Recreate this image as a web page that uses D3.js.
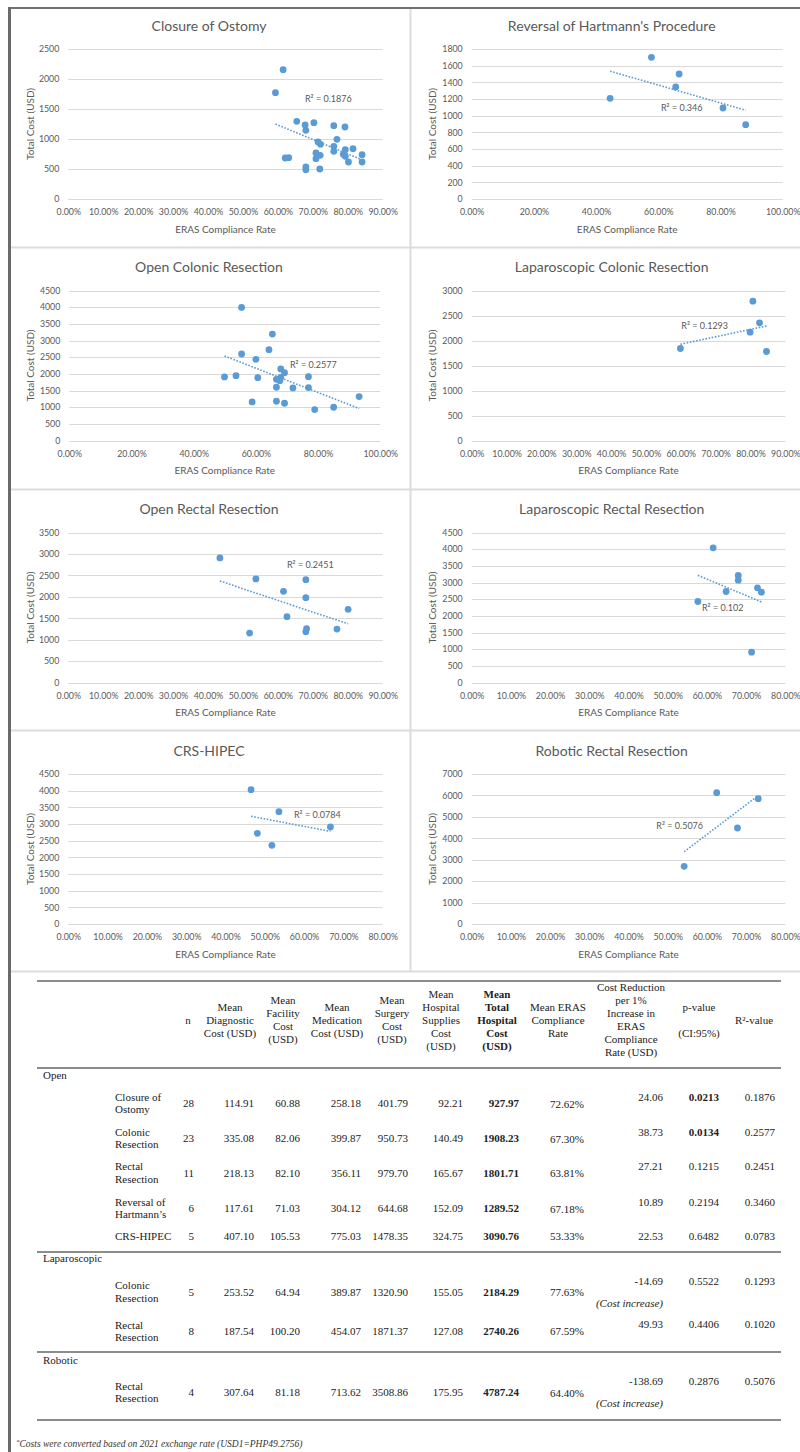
<!DOCTYPE html>
<html>
<head>
<meta charset="utf-8">
<script src="https://cdn.jsdelivr.net/npm/d3@7"></script>
<style>
body { margin: 0; background: #fff; }
svg { display: block; }
</style>
</head>
<body>
<div id="chart"></div>
<script>
// scatter data, each point = [ERAS compliance rate (%), total cost (USD)]
const closureOstomy = [[61.5,2156],[59.3,1772],[65.4,1294],[67.8,1233],[68.0,1144],[70.3,1272],[76.0,1222],
  [79.2,1200],[76.9,994],[71.5,950],[72.2,911],[76.0,878],[76.0,794],[79.3,822],[81.5,839],[70.9,767],
  [72.1,728],[70.9,672],[78.7,744],[79.3,711],[84.1,739],[80.2,617],[84.1,617],[62.1,683],[63.1,689],
  [68.0,533],[68.0,489],[72.0,500]];
const reversalHartmann = [[44.5,1208],[57.8,1700],[66.7,1500],[65.6,1344],[80.8,1092],[88.1,892]];
const openColonic = [[55.4,3992],[65.3,3194],[64.2,2725],[55.4,2595],[60.0,2435],[49.9,1906],[53.6,1946],
  [60.6,1886],[68.0,2146],[69.2,2036],[66.6,1836],[68.0,1896],[67.7,1796],[76.9,1916],[66.6,1597],
  [71.9,1577],[76.9,1587],[58.8,1157],[66.6,1177],[69.2,1117],[78.9,928],[85.0,998],[93.2,1317]];
const lapColonic = [[59.9,1840],[80.7,2787],[79.9,2167],[82.6,2353],[84.6,1780]];
const openRectal = [[43.4,2907],[53.7,2416],[68.0,2400],[61.6,2128],[68.0,1980],[80.1,1707],[62.6,1536],
  [51.9,1154],[68.2,1255],[68.0,1185],[76.9,1247]];
const lapRectal = [[61.6,4040],[68.0,3210],[68.0,3070],[64.9,2730],[72.9,2840],[73.9,2710],[57.7,2430],[71.4,910]];
const crsHipec = [[46.5,4030],[53.6,3370],[66.7,2910],[48.1,2720],[51.8,2360]];
const roboticRectal = [[62.5,6130],[73.1,5850],[67.8,4480],[54.2,2690]];

const chartTitles = ["Closure of Ostomy", "Reversal of Hartmann's Procedure", "Open Colonic Resection",
  "Laparoscopic Colonic Resection", "Open Rectal Resection", "Laparoscopic Rectal Resection",
  "CRS-HIPEC", "Robotic Rectal Resection"];
const chartData = [closureOstomy, reversalHartmann, openColonic, lapColonic, openRectal, lapRectal, crsHipec, roboticRectal];
const r2Labels = ["0.1876", "0.346", "0.2577", "0.1293", "0.2451", "0.102", "0.0784", "0.5076"];
const xMax = [90, 100, 100, 90, 90, 80, 80, 80];
const xStep = [10, 20, 20, 10, 10, 10, 10, 10];
const yMax = [2500, 1800, 4500, 3000, 3500, 4500, 4500, 7000];
const yStep = [500, 200, 500, 500, 500, 500, 500, 1000];

// table data
const groupNames = ["Open", "Laparoscopic", "Robotic"];
const procGroup = [0, 0, 0, 0, 0, 1, 1, 2];
const procNames = [["Closure of","Ostomy"],["Colonic","Resection"],["Rectal","Resection"],["Reversal of","Hartmann’s"],
  ["CRS-HIPEC"],["Colonic","Resection"],["Rectal","Resection"],["Rectal","Resection"]];
const nPatients = [28, 23, 11, 6, 5, 5, 8, 4];
const diagCost = [114.91, 335.08, 218.13, 117.61, 407.10, 253.52, 187.54, 307.64];
const facilityCost = [60.88, 82.06, 82.10, 71.03, 105.53, 64.94, 100.20, 81.18];
const medicationCost = [258.18, 399.87, 356.11, 304.12, 775.03, 389.87, 454.07, 713.62];
const surgeryCost = [401.79, 950.73, 979.70, 644.68, 1478.35, 1320.90, 1871.37, 3508.86];
const suppliesCost = [92.21, 140.49, 165.67, 152.09, 324.75, 155.05, 127.08, 175.95];
const totalCost = [927.97, 1908.23, 1801.71, 1289.52, 3090.76, 2184.29, 2740.26, 4787.24];
const erasRate = [72.62, 67.30, 63.81, 67.18, 53.33, 77.63, 67.59, 64.40];
const costReduction = [24.06, 38.73, 27.21, 10.89, 22.53, -14.69, 49.93, -138.69];
const pValue = [0.0213, 0.0134, 0.1215, 0.2194, 0.6482, 0.5522, 0.4406, 0.2876];
const r2Value = [0.1876, 0.2577, 0.2451, 0.3460, 0.0783, 0.1293, 0.1020, 0.5076];
const headerLabels = [["n"],["Mean","Diagnostic","Cost (USD)"],["Mean","Facility","Cost","(USD)"],
  ["Mean","Medication","Cost (USD)"],["Mean","Surgery","Cost","(USD)"],["Mean","Hospital","Supplies","Cost","(USD)"],
  ["Mean","Total","Hospital","Cost","(USD)"],["Mean ERAS","Compliance","Rate"],
  ["Cost Reduction","per 1%","Increase in","ERAS","Compliance","Rate (USD)"],["p-value","","(CI:95%)"],["R²-value"]];

const W = 800, H = 1452;
const blue = "#5b9bd5", gray = "#595959", grid = "#d9d9d9";

const svg = d3.select("#chart").append("svg")
  .attr("width", W).attr("height", H)
  .style("background", "#fff");

// panel frame lines
const frame = svg.append("g");
[247.5, 489.5, 730.5, 971.5].forEach(function(y) {
  frame.append("line").attr("x1", 11).attr("x2", W).attr("y1", y).attr("y2", y)
    .attr("stroke", "#dcdcdc").attr("stroke-width", 2);
});
frame.append("line").attr("x1", 410.5).attr("x2", 410.5).attr("y1", 9).attr("y2", 972)
  .attr("stroke", "#dcdcdc").attr("stroke-width", 2);
frame.append("line").attr("x1", 8).attr("x2", W).attr("y1", 8).attr("y2", 8)
  .attr("stroke", "#707070").attr("stroke-width", 2);
frame.append("line").attr("x1", 9.5).attr("x2", 9.5).attr("y1", 7).attr("y2", H)
  .attr("stroke", "#6a6a6a").attr("stroke-width", 3);

// layout of the scatter panels
const rowTop = [49, 290.5, 532.5, 774];
const plotH = 150;
const plotX = [[68.3, 382.7], [471.7, 782.7], [69.3, 380.3], [471.7, 785.3],
               [68.3, 382.7], [471.7, 785.3], [68.3, 382.7], [471.7, 785.3]];
const titleX = [209, 611.7];
const yTitleX = [30, 432.7];
// R² label offset from plot top-left
const r2Pos = [[260, 50], [210, 59], [244, 74], [233, 35], [242, 32.5], [251, 75], [249, 41], [208, 52]];

chartData.forEach(function(pts, i) {
  const col = i % 2, row = Math.floor(i / 2);
  const top = rowTop[row];
  const x = d3.scaleLinear().domain([0, xMax[i]]).range(plotX[i]);
  const y = d3.scaleLinear().domain([0, yMax[i]]).range([top + plotH, top]);
  const g = svg.append("g");

  g.append("text")
    .attr("x", titleX[col]).attr("y", top - 23)
    .attr("dy", "0.35em").attr("text-anchor", "middle")
    .style("font-family", "Lato, sans-serif").style("font-size", "14px")
    .attr("fill", gray).text(chartTitles[i]);

  const yTicks = d3.range(0, yMax[i] + 1, yStep[i]);
  g.selectAll(".grid").data(yTicks).enter().append("line")
    .attr("x1", plotX[i][0]).attr("x2", plotX[i][1])
    .attr("y1", function(d) { return Math.round(y(d)) + 0.5; })
    .attr("y2", function(d) { return Math.round(y(d)) + 0.5; })
    .attr("stroke", grid).attr("stroke-width", 1);

  const ya = g.append("g")
    .attr("transform", "translate(" + plotX[i][0] + ",0)")
    .call(d3.axisLeft(y).tickValues(yTicks).tickSize(0).tickPadding(9).tickFormat(d3.format("d")));
  const xa = g.append("g")
    .attr("transform", "translate(0," + (top + plotH) + ")")
    .call(d3.axisBottom(x).tickValues(d3.range(0, xMax[i] + 1, xStep[i])).tickSize(0).tickPadding(10)
      .tickFormat(function(d) { return d.toFixed(2) + "%"; }));
  [ya, xa].forEach(function(a) {
    a.select(".domain").remove();
    a.selectAll("text").attr("fill", gray)
      .style("font-family", "Lato, sans-serif").style("font-size", "8.8px");
  });

  g.append("text")
    .attr("x", (plotX[i][0] + plotX[i][1]) / 2).attr("y", top + plotH + 30)
    .attr("dy", "0.35em").attr("text-anchor", "middle")
    .style("font-family", "Lato, sans-serif").style("font-size", "10px")
    .attr("fill", gray).text("ERAS Compliance Rate");
  g.append("text")
    .attr("transform", "translate(" + yTitleX[col] + "," + (top + plotH / 2) + ") rotate(-90)")
    .attr("dy", "0.35em").attr("text-anchor", "middle")
    .style("font-family", "Lato, sans-serif").style("font-size", "10px")
    .attr("fill", gray).text("Total Cost (USD)");

  // linear trend line (least squares over the points)
  const mx = d3.mean(pts, function(d) { return d[0]; });
  const my = d3.mean(pts, function(d) { return d[1]; });
  const sxy = d3.sum(pts, function(d) { return (d[0] - mx) * (d[1] - my); });
  const sxx = d3.sum(pts, function(d) { return (d[0] - mx) * (d[0] - mx); });
  const slope = sxy / sxx;
  const ext = d3.extent(pts, function(d) { return d[0]; });
  g.append("line")
    .attr("x1", x(ext[0])).attr("y1", y(my + slope * (ext[0] - mx)))
    .attr("x2", x(ext[1])).attr("y2", y(my + slope * (ext[1] - mx)))
    .attr("stroke", blue).attr("stroke-width", 1.6).attr("stroke-dasharray", "1.6,1.6");

  g.selectAll(".dot").data(pts).enter().append("circle")
    .attr("cx", function(d) { return x(d[0]); })
    .attr("cy", function(d) { return y(d[1]); })
    .attr("r", 3.4).attr("fill", blue);

  g.append("text")
    .attr("x", plotX[i][0] + r2Pos[i][0]).attr("y", top + r2Pos[i][1])
    .attr("dy", "0.35em").attr("text-anchor", "middle")
    .style("font-family", "Lato, sans-serif").style("font-size", "9px")
    .attr("fill", gray).text("R² = " + r2Labels[i]);
});

// ---- table ----
const tbl = svg.append("g")
  .style("font-family", "'Liberation Serif', 'Times New Roman', serif")
  .style("font-size", "11px").attr("fill", "#222");
const tx0 = 37, tx1 = 781;
[981, 1068, 1252, 1352, 1420].forEach(function(y) {
  tbl.append("line").attr("x1", tx0).attr("x2", tx1).attr("y1", y).attr("y2", y)
    .attr("stroke", "#666").attr("stroke-width", 1.5);
});

const headCenter = [188, 230, 283, 337, 392, 441, 497, 558, 631, 699, 754];
const valRight = [194, 254, 300, 361, 408, 463, 519, 584, 663, 719, 775];
const lineH = 13;
headerLabels.forEach(function(lines, c) {
  const y0 = 1020 - (lines.length - 1) * lineH / 2;
  lines.forEach(function(t, k) {
    tbl.append("text").attr("x", headCenter[c]).attr("y", y0 + k * lineH)
      .attr("dy", "0.35em").attr("text-anchor", "middle")
      .style("font-weight", c === 6 ? "bold" : "normal").text(t);
  });
});

const groupY = [1075, 1258.3, 1359.7];
groupNames.forEach(function(n, k) {
  tbl.append("text").attr("x", 43).attr("y", groupY[k]).attr("dy", "0.35em").text(n);
});

const rowY = [1103.3, 1138.3, 1172.7, 1208.3, 1235.7, 1291.7, 1331, 1392.3];
const f2 = function(v) { return v.toFixed(2); }, f4 = function(v) { return v.toFixed(4); };
rowY.forEach(function(ry, r) {
  const names = procNames[r];
  names.forEach(function(t, k) {
    tbl.append("text").attr("x", 115).attr("y", ry + (k - (names.length - 1) / 2) * 12.6)
      .attr("dy", "0.35em").text(t);
  });
  const vals = [nPatients[r], f2(diagCost[r]), f2(facilityCost[r]), f2(medicationCost[r]),
    f2(surgeryCost[r]), f2(suppliesCost[r]), f2(totalCost[r]), f2(erasRate[r]) + "%"];
  vals.forEach(function(v, c) {
    tbl.append("text").attr("x", valRight[c]).attr("y", ry + (c === 7 ? 0.5 : 0))
      .attr("dy", "0.35em").attr("text-anchor", "end")
      .style("font-weight", c === 6 ? "bold" : "normal").text(v);
  });
  const topY = names.length > 1 ? ry - 6.6 : ry;
  const cy = costReduction[r] < 0 ? ry - 11 : topY;
  tbl.append("text").attr("x", valRight[8]).attr("y", cy).attr("dy", "0.35em")
    .attr("text-anchor", "end").text(f2(costReduction[r]));
  tbl.append("text").attr("x", valRight[9]).attr("y", cy).attr("dy", "0.35em")
    .attr("text-anchor", "end").style("font-weight", pValue[r] < 0.05 ? "bold" : "normal")
    .text(f4(pValue[r]));
  tbl.append("text").attr("x", valRight[10]).attr("y", cy).attr("dy", "0.35em")
    .attr("text-anchor", "end").text(f4(r2Value[r]));
  if (costReduction[r] < 0) {
    tbl.append("text").attr("x", valRight[8]).attr("y", ry + 11).attr("dy", "0.35em")
      .attr("text-anchor", "end").style("font-style", "italic").text("(Cost increase)");
  }
});

// footnote
const fn = svg.append("text").attr("x", 16).attr("y", 1447)
  .style("font-family", "'Liberation Serif', serif").style("font-style", "italic")
  .style("font-size", "9.5px").attr("fill", "#333");
fn.append("tspan").attr("dy", "-3").style("font-size", "7px").text("*");
fn.append("tspan").attr("dy", "3").text("Costs were converted based on 2021 exchange rate (USD1=PHP49.2756)");
</script>
</body>
</html>
